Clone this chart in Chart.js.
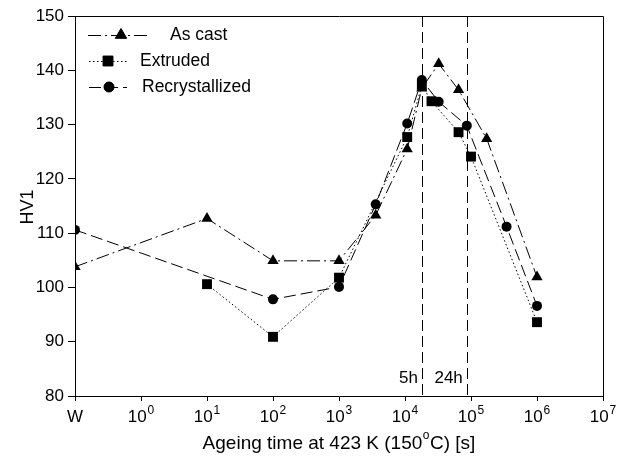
<!DOCTYPE html>
<html>
<head>
<meta charset="utf-8">
<script src="https://cdn.jsdelivr.net/npm/chart.js@4"></script>
<style>
  html, body { margin: 0; padding: 0; background: #fff; }
  #wrap { width: 617px; height: 461px; }
</style>
</head>
<body>
<div id="wrap"><canvas id="hv"></canvas></div>
<script>
// ── data (ageing time in s, W = as-quenched plotted at 0.1) ─────────────
const asCastTime   = [0.1, 10, 100, 1000, 3600, 10800, 18000, 32400, 64800, 172800, 1e6];
const asCastHV     = [103.8, 112.7, 104.9, 104.9, 113.3, 125.5, 136.7, 141.2, 136.4, 127.4, 101.9];
const extrudedTime = [10, 100, 1000, 10800, 18000, 25200, 64800, 100000, 1e6];
const extrudedHV   = [100.6, 90.9, 101.8, 127.7, 137.2, 134.3, 128.6, 124.1, 93.6];
const recrystTime  = [0.1, 100, 1000, 3600, 10800, 18000, 32400, 86400, 345600, 1e6];
const recrystHV    = [110.6, 97.8, 100.1, 115.3, 130.2, 138.2, 134.2, 129.8, 111.2, 96.6];

const xTickValues  = [0.1, 1, 10, 100, 1000, 10000, 100000, 1e6, 1e7];
const xTickBase    = ['W', '10', '10', '10', '10', '10', '10', '10', '10'];
const xTickExp     = ['', '0', '1', '2', '3', '4', '5', '6', '7'];
const markTimes    = [18000, 86400];
const markLabels   = ['5h', '24h'];

const FONT = 'Arial, "Liberation Sans", sans-serif';

function pts(xs, ys) { return xs.map((x, i) => ({ x, y: ys[i] })); }

const SERIES = [
  { label: 'As cast',        data: pts(asCastTime, asCastHV),     style: 'triangle', r: 6.5, dash: [13, 4, 2, 4] },
  { label: 'Extruded',       data: pts(extrudedTime, extrudedHV), style: 'rect',     r: 7,   dash: [1.5, 2.5] },
  { label: 'Recrystallized', data: pts(recrystTime, recrystHV),   style: 'circle',   r: 5,   dash: [12, 5] },
];

// frame, reference lines, custom x labels, titles and legend
const decor = {
  id: 'decor',
  beforeDatasetsDraw(chart) {
    const { ctx, chartArea: a, scales: { x } } = chart;
    ctx.save();
    ctx.strokeStyle = '#000';
    ctx.lineWidth = 1;
    ctx.setLineDash([11, 5]);
    markTimes.forEach(t => {
      const px = Math.round(x.getPixelForValue(t)) + 0.5;
      ctx.beginPath(); ctx.moveTo(px, a.top); ctx.lineTo(px, a.bottom); ctx.stroke();
    });
    ctx.setLineDash([]);
    ctx.fillStyle = '#000';
    ctx.font = '17px ' + FONT;
    ctx.textAlign = 'right';
    ctx.textBaseline = 'alphabetic';
    markTimes.forEach((t, i) => {
      ctx.fillText(markLabels[i], x.getPixelForValue(t) - 4, 383);
    });
    ctx.restore();
  },
  afterDraw(chart) {
    const { ctx, chartArea: a, scales: { x } } = chart;
    ctx.save();
    ctx.strokeStyle = '#000';
    ctx.lineWidth = 1;
    ctx.beginPath();
    ctx.moveTo(a.left, a.top + 0.5); ctx.lineTo(a.right + 0.5, a.top + 0.5);
    ctx.lineTo(a.right + 0.5, a.bottom);
    ctx.stroke();

    // x tick labels with superscripts
    ctx.fillStyle = '#000';
    ctx.textBaseline = 'alphabetic';
    xTickValues.forEach((v, i) => {
      const px = x.getPixelForValue(v);
      ctx.font = '17px ' + FONT;
      const wb = ctx.measureText(xTickBase[i]).width;
      ctx.font = '12px ' + FONT;
      const we = xTickExp[i] ? ctx.measureText(xTickExp[i]).width + 1 : 0;
      const left = px - (wb + we) / 2;
      ctx.textAlign = 'left';
      ctx.font = '17px ' + FONT;
      ctx.fillText(xTickBase[i], left, 422);
      if (xTickExp[i]) {
        ctx.font = '12px ' + FONT;
        ctx.fillText(xTickExp[i], left + wb + 1, 414);
      }
    });

    // x axis title: Ageing time at 423 K (150°C) [s]
    const p1 = 'Ageing time at 423 K (150', p2 = 'o', p3 = 'C) [s]';
    ctx.font = '19px ' + FONT;
    const w1 = ctx.measureText(p1).width, w3 = ctx.measureText(p3).width;
    ctx.font = '12px ' + FONT;
    const w2 = ctx.measureText(p2).width + 1;
    let tx = (a.left + a.right) / 2 - (w1 + w2 + w3) / 2;
    ctx.textAlign = 'left';
    ctx.font = '19px ' + FONT;
    ctx.fillText(p1, tx, 449); tx += w1;
    ctx.font = '12px ' + FONT;
    ctx.fillText(p2, tx + 0.5, 439); tx += w2;
    ctx.font = '19px ' + FONT;
    ctx.fillText(p3, tx, 449);

    // y axis title
    ctx.save();
    ctx.translate(33, 207);
    ctx.rotate(-Math.PI / 2);
    ctx.textAlign = 'center';
    ctx.font = '18px ' + FONT;
    ctx.fillText('HV1', 0, 0);
    ctx.restore();

    // legend
    const rows = [
      { y: 35, x0: 88, x1: 148, mx: 121, tx: 170 },
      { y: 61, x0: 89, x1: 128, mx: 108, tx: 140 },
      { y: 87, x0: 89, x1: 127, mx: 109, tx: 142 },
    ];
    rows.forEach((r, i) => {
      const s = SERIES[i];
      ctx.setLineDash(s.dash);
      ctx.beginPath(); ctx.moveTo(r.x0, r.y + 0.5); ctx.lineTo(r.x1, r.y + 0.5); ctx.stroke();
      ctx.setLineDash([]);
      Chart.helpers.drawPoint(ctx, { pointStyle: s.style, radius: s.r, rotation: 0, borderWidth: 1 }, r.mx, r.y);
      ctx.fill();
      ctx.font = '17.5px ' + FONT;
      ctx.textAlign = 'left';
      ctx.textBaseline = 'middle';
      ctx.fillText(s.label, r.tx, r.y);
    });
    ctx.restore();
  }
};

new Chart(document.getElementById('hv'), {
  type: 'scatter',
  data: {
    datasets: SERIES.map(s => ({
      label: s.label,
      data: s.data,
      showLine: true,
      borderColor: '#000',
      backgroundColor: '#000',
      borderWidth: 1,
      borderDash: s.dash,
      pointStyle: s.style,
      pointRadius: s.r,
      pointHoverRadius: s.r,
      pointBackgroundColor: '#000',
      pointBorderColor: '#000',
      pointBorderWidth: 0,
      tension: 0,
    }))
  },
  options: {
    responsive: true,
    maintainAspectRatio: false,
    animation: false,
    layout: { padding: { top: 16, right: 14, left: 0, bottom: 0 } },
    plugins: { legend: { display: false }, tooltip: { enabled: false } },
    scales: {
      x: {
        type: 'logarithmic',
        min: 0.1,
        max: 1e7,
        afterBuildTicks: sc => { sc.ticks = xTickValues.map(v => ({ value: v })); },
        afterFit: sc => { sc.height = 65; },
        ticks: { display: false },
        grid: { drawOnChartArea: false, drawTicks: true, tickLength: 5, color: '#000' },
        border: { color: '#000', width: 1 },
      },
      y: {
        min: 80,
        max: 150,
        afterFit: sc => { sc.width = 75; },
        ticks: { stepSize: 10, color: '#000', padding: 4, font: { size: 17, family: FONT } },
        grid: { drawOnChartArea: false, drawTicks: true, tickLength: 7, color: '#000' },
        border: { color: '#000', width: 1 },
      }
    }
  },
  plugins: [decor]
});
</script>
</body>
</html>
